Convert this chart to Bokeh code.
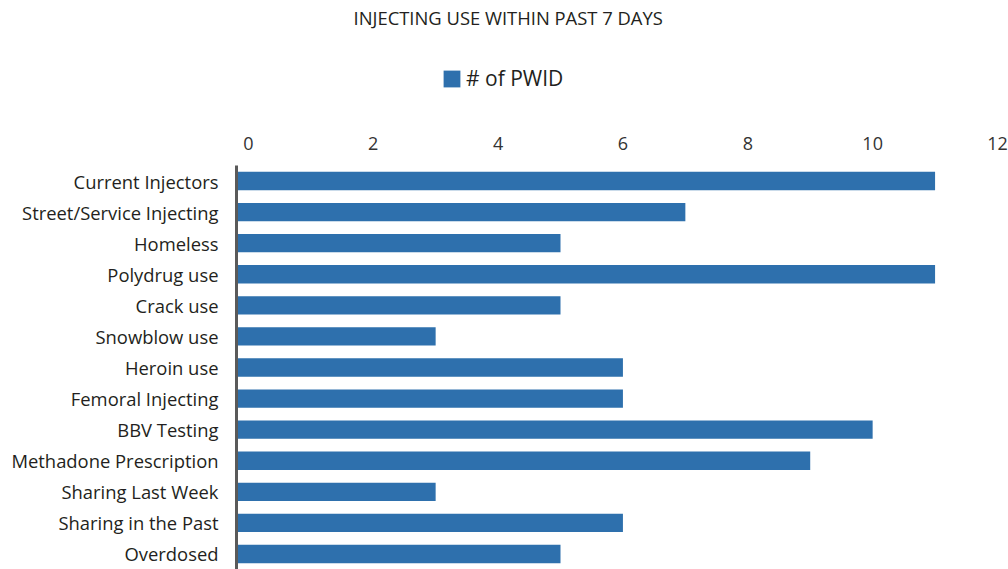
from bokeh.plotting import figure
from bokeh.models import FactorRange, Range1d, Legend, LegendItem, ColumnDataSource, FixedTicker
from bokeh.layouts import column
from bokeh.embed import file_html
from bokeh.resources import INLINE

title_text = "INJECTING USE WITHIN PAST 7 DAYS"
series_name = "# of PWID"
categories = ["Current Injectors", "Street/Service Injecting", "Homeless", "Polydrug use",
              "Crack use", "Snowblow use", "Heroin use", "Femoral Injecting", "BBV Testing",
              "Methadone Prescription", "Sharing Last Week", "Sharing in the Past", "Overdosed"]
values = [11, 7, 5, 11, 5, 3, 6, 6, 10, 9, 3, 6, 5]
x_ticks = [0, 2, 4, 6, 8, 10, 12]

FONT = "Open Sans"
BAR = "#2e70ad"
HEADER_H = 120

src = ColumnDataSource(dict(cat=categories, val=values))
x_rng = Range1d(-0.19, 12)

# ---- header: title + legend (its bar renderer is kept out of view; only the legend shows) ----
hdr = figure(width=1008, height=HEADER_H, output_backend="svg", toolbar_location=None,
             x_axis_type=None, y_axis_type=None,
             x_range=Range1d(100, 101), y_range=FactorRange(factors=list(reversed(categories))),
             min_border_left=0, min_border_right=0, min_border_top=29, min_border_bottom=0)
hdr.outline_line_color = None
hdr.title.text = title_text
hdr.title.align = "left"
hdr.title.offset = 117
hdr.title.standoff = 0
hdr.title.text_font = FONT
hdr.title.text_font_size = "18.4px"
hdr.title.text_font_style = "normal"
hdr.title.text_color = "#231f20"
hr = hdr.hbar(y="cat", right="val", left=0, height=0, source=src, color=BAR, line_color=None)
legend = Legend(items=[LegendItem(label=series_name, renderers=[hr])],
                location=(205, 28), orientation="horizontal",
                padding=0, margin=0, spacing=0, border_line_color=None,
                background_fill_alpha=0, glyph_width=21, glyph_height=21,
                label_text_font=FONT, label_text_font_size="21px",
                label_text_color="#231f20", label_standoff=4, label_height=21)
hdr.add_layout(legend, "center")

# ---- main chart ----
p = figure(width=1008, height=569 - HEADER_H, output_backend="svg", toolbar_location=None,
           y_range=FactorRange(factors=list(reversed(categories)), start=0.05, end=13),
           x_range=x_rng, x_axis_location="above",
           min_border_left=236, min_border_right=11, min_border_top=165 - HEADER_H,
           min_border_bottom=0)

p.hbar(y="cat", right="val", left=x_rng.start, height=0.59, source=src, color=BAR, line_color=None)

p.xaxis.ticker = FixedTicker(ticks=x_ticks)
p.xaxis.axis_line_color = None
p.xaxis.major_tick_line_color = None
p.xaxis.minor_tick_line_color = None
p.xaxis.major_label_text_font = FONT
p.xaxis.major_label_text_font_size = "18px"
p.xaxis.major_label_text_color = "#333333"
p.xaxis.major_label_standoff = 10

p.yaxis.axis_line_color = "#5a5a5a"
p.yaxis.axis_line_width = 3
p.yaxis.major_tick_line_color = None
p.yaxis.minor_tick_line_color = None
p.yaxis.major_label_text_font = FONT
p.yaxis.major_label_text_font_size = "18.4px"
p.yaxis.major_label_text_color = "#231f20"
p.yaxis.major_label_standoff = 12

p.xgrid.visible = False
p.ygrid.visible = False
p.outline_line_color = None

open("out.html", "w").write(file_html(column(hdr, p, spacing=0), INLINE))
